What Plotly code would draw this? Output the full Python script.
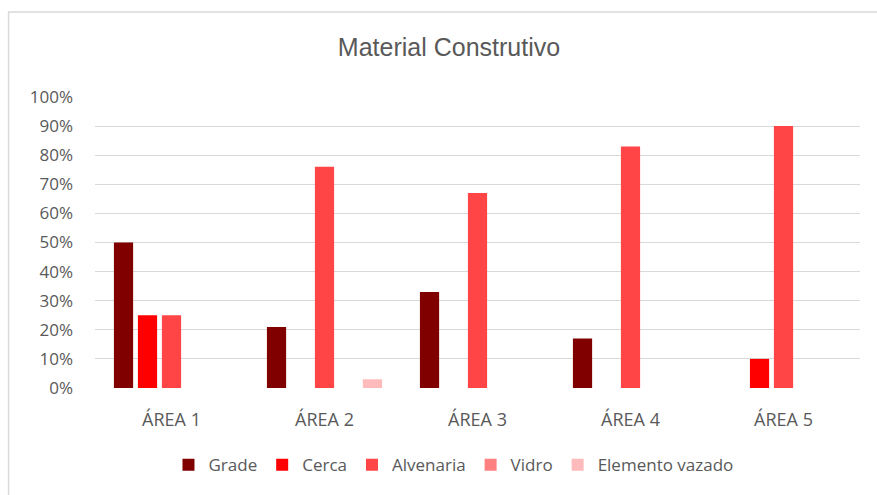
import plotly.graph_objects as go

categories = ["ÁREA 1", "ÁREA 2", "ÁREA 3", "ÁREA 4", "ÁREA 5"]
series_names = ["Grade", "Cerca", "Alvenaria", "Vidro", "Elemento vazado"]
grade = [0.50, 0.21, 0.33, 0.17, 0.0]
cerca = [0.25, 0.0, 0.0, 0.0, 0.10]
alvenaria = [0.25, 0.76, 0.67, 0.83, 0.90]
vidro = [0.0, 0.0, 0.0, 0.0, 0.0]
elemento_vazado = [0.0, 0.03, 0.0, 0.0, 0.0]
tick_vals = [i / 10 for i in range(11)]
tick_text = [f"{i*10}%" for i in range(11)]

colors = ["#800000", "#FF0000", "#FF4545", "#FF8080", "#FFBBBB"]
values = [grade, cerca, alvenaria, vidro, elemento_vazado]

fig = go.Figure()
for name, vals, col in zip(series_names, values, colors):
    fig.add_trace(go.Bar(x=categories, y=vals, name=name, marker=dict(color=col, line=dict(width=0))))

font_family = "Open Sans, Liberation Sans, Arial, sans-serif"
fig.update_layout(
    width=877, height=495,
    margin=dict(l=95, r=17, t=97, b=107),
    paper_bgcolor="white", plot_bgcolor="white",
    barmode="group", bargap=0.216, bargroupgap=0.2,
    title=dict(text="Material Construtivo", x=0.512, xanchor="center", y=0.905, yanchor="middle",
               font=dict(family="Liberation Sans, Arial, sans-serif", size=25, color="#595959")),
    font=dict(family=font_family, size=17, color="#595959"),
    xaxis=dict(showgrid=False, showline=False, ticks="", ticklabelstandoff=19,
               tickfont=dict(size=18, color="#595959")),
    yaxis=dict(range=[0, 1.0], tickvals=tick_vals, ticktext=tick_text, showgrid=True,
               gridcolor="#D9D9D9", gridwidth=1, zeroline=False, showline=False, ticks="",
               ticklabelstandoff=21, tickfont=dict(size=17, color="#595959")),
    legend=dict(orientation="h", x=0.4686, xanchor="center", y=-0.265, yanchor="middle",
                font=dict(size=17, color="#595959"), itemwidth=30, traceorder="normal"),
    shapes=[dict(type="rect", xref="paper", yref="paper", x0=-0.113, x1=1.1, y0=-0.5, y1=1.292,
                 line=dict(color="#D9D9D9", width=1.5), fillcolor="rgba(0,0,0,0)", layer="below")],
)
fig.write_html("out.html")
